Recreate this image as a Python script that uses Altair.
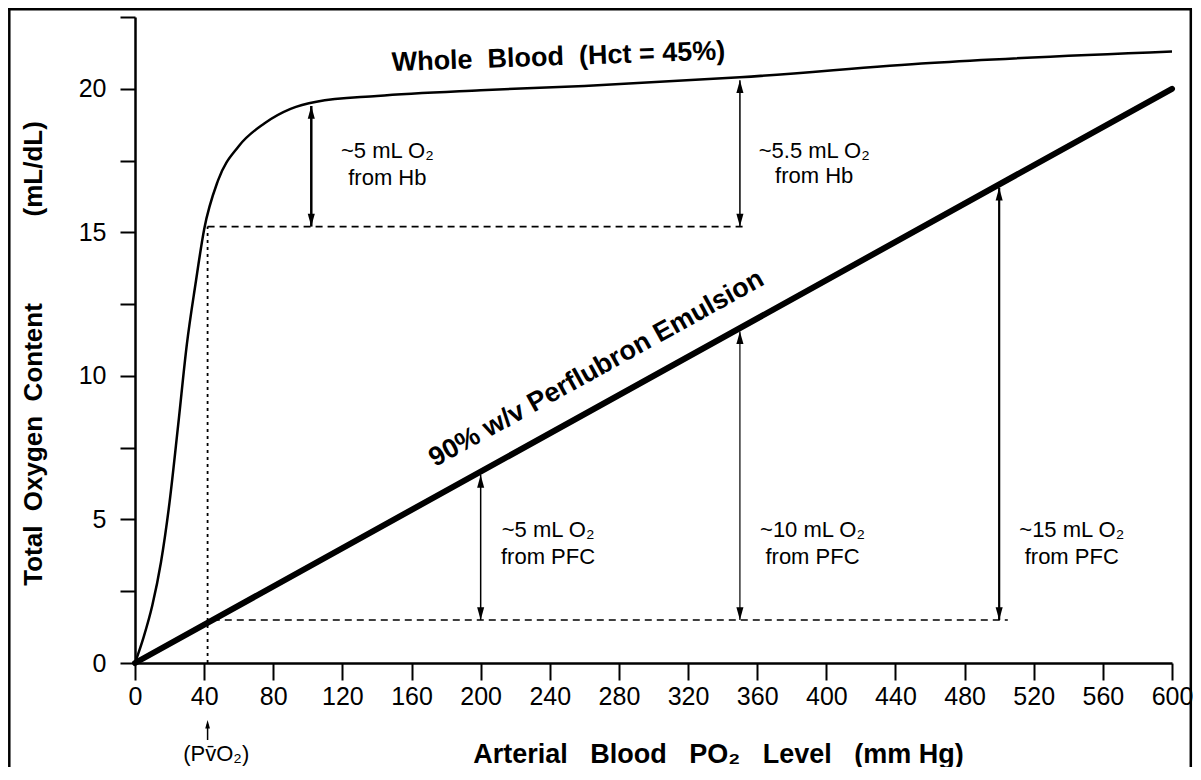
import altair as alt
import pandas as pd

# ---------------- data ----------------
# Whole blood O2 content curve (Hct = 45%)
wb_po2 = [0, 5, 10, 15, 20, 25, 30, 35, 40, 48, 60, 75, 90, 105, 140, 200, 260, 350, 460, 600]
wb_o2 = [0, 0.9, 2.0, 3.5, 5.6, 8.3, 11.1, 13.2, 15.1, 16.8, 18.0, 18.8, 19.3, 19.55, 19.75, 19.95, 20.1, 20.4, 20.9, 21.3]

# 90% w/v Perflubron emulsion (linear)
pfc_po2 = [0, 600]
pfc_o2 = [0, 20]

# dashed reference lines
dash_h_x = [42, 45]
dash_h_x2 = [352, 505]
dash_h_y = [15.2, 1.5]
dash_v_x = [42]
dash_v_y = [0]
dash_v_y2 = [15.2]

# double-headed arrows
arrow_x = [102, 350, 200, 350, 500]
arrow_lo = [15.2, 15.2, 1.5, 1.5, 1.5]
arrow_hi = [19.4, 20.3, 6.55, 11.55, 16.55]
arrow_w = [2.5, 1.5, 1.5, 1.2, 2.2]

# annotation texts
note_x = [146, 146, 393, 393, 239, 239, 392, 392, 542, 542]
note_y = [17.85, 16.9, 17.85, 16.95, 4.63, 3.69, 4.63, 3.69, 4.63, 3.69]
note_text = ["~5 mL O\u2082", "from Hb", "~5.5 mL O\u2082", "from Hb",
             "~5 mL O\u2082", "from PFC", "~10 mL O\u2082", "from PFC",
             "~15 mL O\u2082", "from PFC"]

wb_label = ["Whole\u00a0\u00a0Blood\u00a0\u00a0(Hct = 45%)"]
wb_label_x = [245]
wb_label_y = [21.1]
pfc_label = ["90% w/v Perflubron Emulsion"]
pfc_label_x = [267]
pfc_label_y = [10.25]

pvo2_x = [42]
pvo2_label = ["(Pv\u0304O\u2082)"]
pvo2_label_x = [47]

x_ticks = list(range(0, 601, 40))
y_ticks = [0, 2.5, 5, 7.5, 10, 12.5, 15, 17.5, 20, 22.5]

FONT = "Liberation Sans"

# ---------------- scales / axes ----------------
xs = alt.Scale(domain=[0, 600], nice=False, zero=False)
ys = alt.Scale(domain=[0, 22.5], nice=False, zero=False)

x_axis = alt.Axis(
    values=x_ticks, title="Arterial\u00a0\u00a0\u00a0Blood\u00a0\u00a0\u00a0PO\u2082\u00a0\u00a0\u00a0Level\u00a0\u00a0\u00a0(mm Hg)",
    labelFontSize=25, labelFont=FONT, labelColor="black", labelPadding=4,
    tickSize=17, tickWidth=2, tickColor="black", domainWidth=2.5, domainColor="black",
    grid=False, labelOverlap=False, labelFlush=False,
    titleFontSize=27, titleFont=FONT, titleFontWeight="bold", titleColor="black",
    titleX=583, titleY=99, titleAlign="center", titleBaseline="alphabetic", titleAngle=0,
)
y_axis = alt.Axis(
    values=y_ticks, format=".0f",
    labelExpr="datum.value % 5 === 0 ? datum.label : ''",
    title="Total\u00a0\u00a0Oxygen\u00a0\u00a0Content" + "\u00a0" * 12 + "(mL/dL)",
    labelFontSize=25, labelFont=FONT, labelColor="black", labelPadding=14,
    tickSize=15, tickWidth=2, tickColor="black", domainWidth=2.5, domainColor="black",
    grid=False, labelOverlap=False, labelFlush=False,
    titleFontSize=26, titleFont=FONT, titleFontWeight="bold", titleColor="black",
    titleX=-102, titleY=336, titleAngle=270, titleAlign="center", titleBaseline="middle",
)


def X(f):
    return alt.X(f, type="quantitative", scale=xs, axis=x_axis)


def Y(f):
    return alt.Y(f, type="quantitative", scale=ys, axis=y_axis)


# ---------------- layers ----------------
wb_df = pd.DataFrame({"po2": wb_po2, "o2": wb_o2})
pfc_df = pd.DataFrame({"po2": pfc_po2, "o2": pfc_o2})

wb_line = alt.Chart(wb_df).mark_line(color="black", strokeWidth=2.5, interpolate="monotone").encode(
    x=X("po2"), y=Y("o2"))
pfc_line = alt.Chart(pfc_df).mark_line(color="black", strokeWidth=6, strokeCap="round").encode(
    x=X("po2"), y=Y("o2"))

dh_df = pd.DataFrame({"po2": dash_h_x, "x2": dash_h_x2, "o2": dash_h_y})
dash_h = alt.Chart(dh_df).mark_rule(color="black", strokeWidth=1.6, strokeDash=[7, 5]).encode(
    x=X("po2"), x2="x2", y=Y("o2"))
dv_df = pd.DataFrame({"po2": dash_v_x, "o2": dash_v_y, "y2": dash_v_y2})
dash_v = alt.Chart(dv_df).mark_rule(color="black", strokeWidth=1.8, strokeDash=[3, 4]).encode(
    x=X("po2"), y=Y("o2"), y2="y2")

ar_df = pd.DataFrame({"po2": arrow_x, "o2": arrow_lo, "hi": arrow_hi, "w": arrow_w})
stems = alt.Chart(ar_df).mark_rule(color="black").encode(
    x=X("po2"), y=Y("o2"), y2="hi", strokeWidth=alt.StrokeWidth("w:Q", scale=None, legend=None))
UP = "M0,0L-0.5,1.8L0.5,1.8Z"
DOWN = "M0,0L-0.5,-1.8L0.5,-1.8Z"
ar_hi_df = pd.DataFrame({"po2": arrow_x, "o2": arrow_hi})
heads_up = alt.Chart(ar_hi_df).mark_point(shape=UP, filled=True, color="black", opacity=1, size=200, strokeWidth=0).encode(
    x=X("po2"), y=Y("o2"))
heads_dn = alt.Chart(ar_df).mark_point(shape=DOWN, filled=True, color="black", opacity=1, size=200, strokeWidth=0).encode(
    x=X("po2"), y=Y("o2"))

notes_df = pd.DataFrame({"po2": note_x, "o2": note_y, "t": note_text})
notes = alt.Chart(notes_df).mark_text(font=FONT, fontSize=22, color="black", align="center", baseline="middle").encode(
    x=X("po2"), y=Y("o2"), text="t:N")

wbl_df = pd.DataFrame({"po2": wb_label_x, "o2": wb_label_y, "t": wb_label})
wb_text = alt.Chart(wbl_df).mark_text(font=FONT, fontSize=27, fontWeight="bold", color="black",
                                      align="center", baseline="middle", angle=358).encode(
    x=X("po2"), y=Y("o2"), text="t:N")
pfl_df = pd.DataFrame({"po2": pfc_label_x, "o2": pfc_label_y, "t": pfc_label})
pfc_text = alt.Chart(pfl_df).mark_text(font=FONT, fontSize=27, fontWeight="bold", color="black",
                                       align="center", baseline="middle", angle=331).encode(
    x=X("po2"), y=Y("o2"), text="t:N")

# PvO2 marker below the x axis
pv_df = pd.DataFrame({"po2": pvo2_x})
pv_stem = alt.Chart(pv_df).mark_rule(color="black", strokeWidth=1.5).encode(
    x=X("po2"), y=alt.value(707), y2=alt.value(723))
pv_head = alt.Chart(pv_df).mark_point(shape=UP, filled=True, color="black", opacity=1, size=90, strokeWidth=0).encode(
    x=X("po2"), y=alt.value(703))
pvl_df = pd.DataFrame({"po2": pvo2_label_x, "t": pvo2_label})
pv_text = alt.Chart(pvl_df).mark_text(font=FONT, fontSize=22, color="black", align="center", baseline="middle").encode(
    x=X("po2"), y=alt.value(737), text="t:N")

# outer frame (left, top, right edges)
frame_df = pd.DataFrame({"k": [0]})
frame_left = alt.Chart(frame_df).mark_rule(color="black", strokeWidth=2.5).encode(
    x=alt.value(-125.7), y=alt.value(-7.7), y2=alt.value(760))
frame_top = alt.Chart(frame_df).mark_rule(color="black", strokeWidth=2.5).encode(
    x=alt.value(-127), x2=alt.value(1057), y=alt.value(-7.7))
frame_right = alt.Chart(frame_df).mark_rule(color="black", strokeWidth=2.5).encode(
    x=alt.value(1055.8), y=alt.value(-7.7), y2=alt.value(760))

chart = alt.layer(
    wb_line, dash_h, dash_v, stems, heads_up, heads_dn, pfc_line,
    notes, wb_text, pfc_text, pv_stem, pv_head, pv_text,
    frame_left, frame_top, frame_right,
).properties(
    width=1037, height=646,
    autosize=alt.AutoSizeParams(type="none"),
    padding={"left": 127, "top": 9, "right": 21, "bottom": 104},
    background="white",
).configure_view(stroke="transparent")

chart.save("out.html", embed_options={"renderer": "svg", "actions": False})
